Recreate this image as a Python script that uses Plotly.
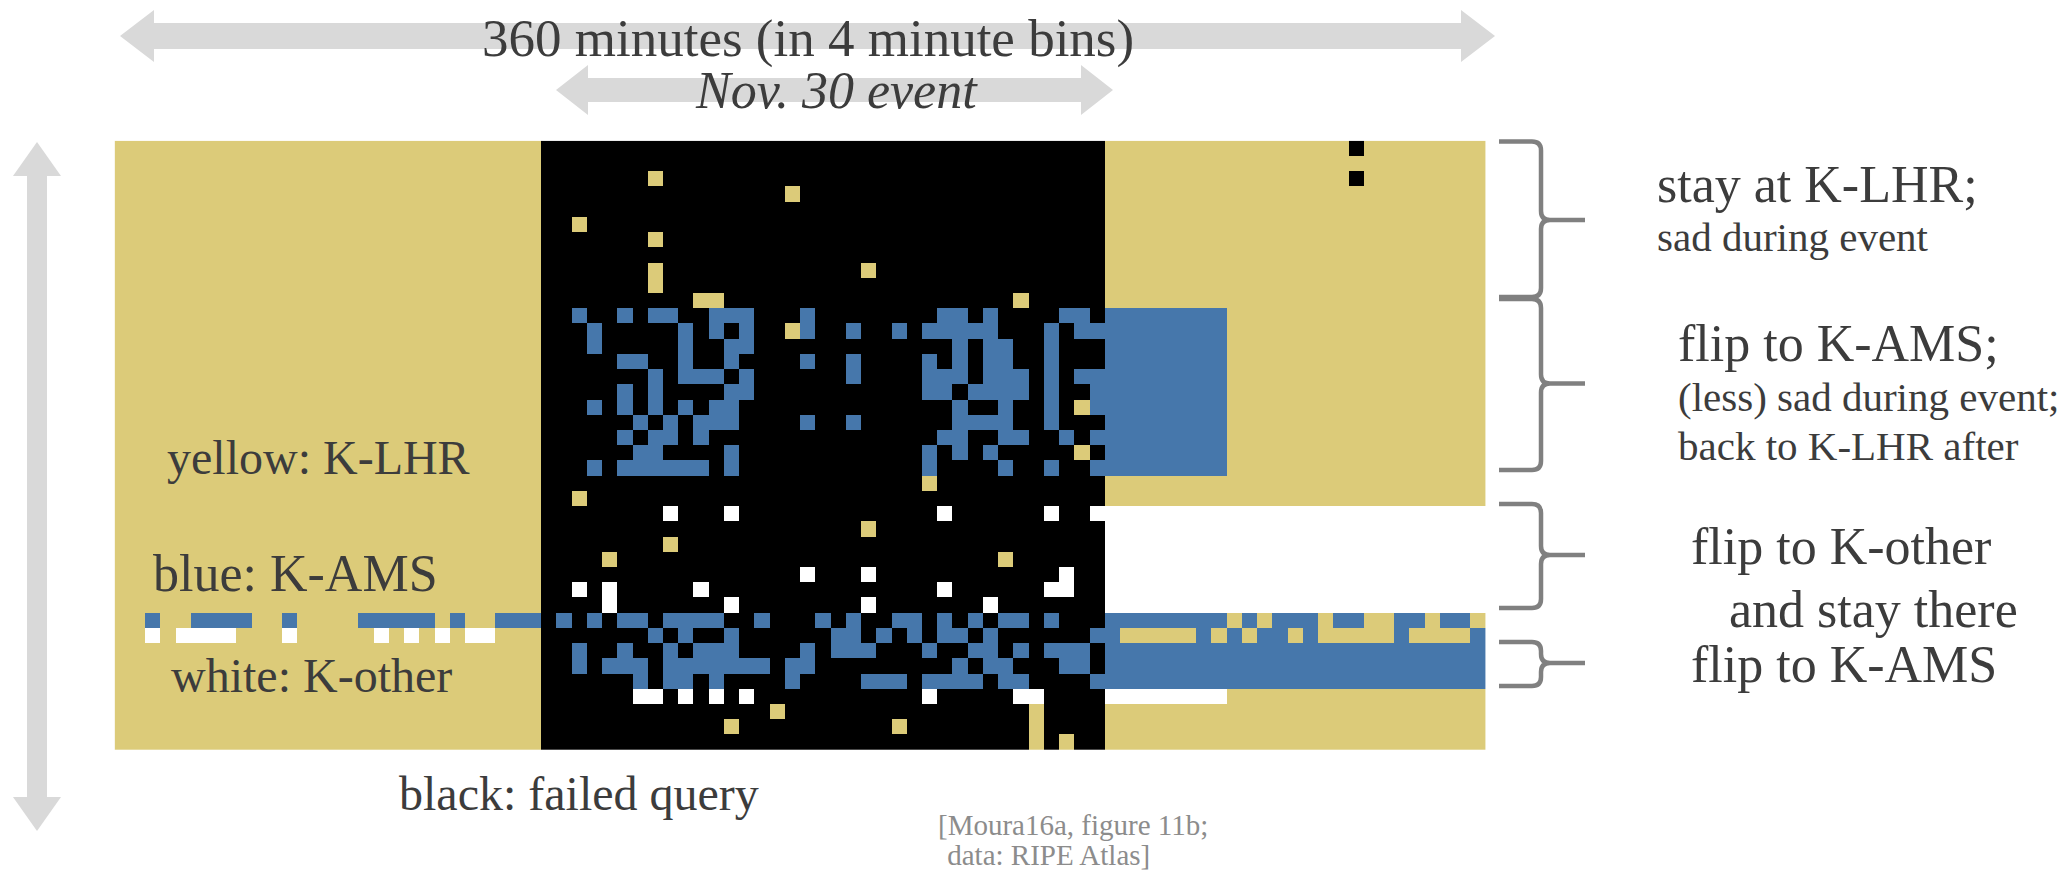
import numpy as np
import plotly.graph_objects as go

W, H = 2072, 875

# ---------------- data ----------------
categories = ["K-LHR", "K-AMS", "K-other", "failed query"]
cat_colors = ["#DCCB79", "#4677AB", "#FFFFFF", "#000000"]
code = {"Y": 0, "B": 1, "W": 2, "K": 3}

n_probes = 40
bin_minutes = list(range(0, 360, 4))          # 90 bins of 4 minutes
event_bins = (28, 65)                          # bins of the Nov. 30 event (failed by default)

# before the event (default K-LHR)
before_blue = {31: [2, 5, 6, 7, 8, 11, 16, 17, 18, 19, 20, 22, 25, 26, 27]}
before_white = {32: [2, 4, 5, 6, 7, 11, 17, 19, 21, 23, 24]}

# during the event (default failed query)
event_yellow = {
    2: [35], 3: [44], 5: [30], 6: [35], 8: [35, 49], 9: [35], 10: [38, 39, 59],
    12: [44], 17: [63], 20: [63], 22: [53], 23: [30], 25: [49], 26: [36],
    27: [32, 58], 37: [43, 60], 38: [40, 51, 60], 39: [60, 62],
}
event_blue = {
    11: [30, 33, 35, 36, 39, 40, 41, 45, 54, 55, 57, 62, 63],
    12: [31, 37, 39, 41, 45, 48, 51, 53, 54, 55, 56, 57, 61, 63, 64],
    13: [31, 37, 40, 41, 55, 57, 58, 61],
    14: [33, 34, 37, 40, 45, 48, 53, 55, 57, 58, 61],
    15: [35, 37, 38, 39, 41, 48, 53, 54, 55, 57, 58, 59, 61, 63, 64],
    16: [33, 35, 40, 41, 53, 54, 56, 57, 58, 59, 61, 64],
    17: [31, 33, 35, 37, 39, 40, 55, 58, 61, 64],
    18: [34, 36, 38, 39, 40, 45, 48, 55, 56, 57, 58, 61],
    19: [33, 35, 36, 38, 54, 55, 58, 59, 62, 64],
    20: [34, 35, 40, 53, 55, 57],
    21: [31, 33, 34, 35, 36, 37, 38, 40, 53, 58, 61, 64],
    31: [29, 31, 33, 34, 36, 37, 38, 39, 42, 46, 48, 51, 52, 54, 56, 58, 59, 61],
    32: [35, 37, 40, 47, 48, 50, 52, 54, 55, 57, 64],
    33: [30, 33, 36, 38, 39, 40, 45, 47, 48, 49, 53, 56, 57, 59, 61, 62, 63],
    34: [30, 32, 33, 34, 36, 37, 38, 39, 40, 41, 42, 44, 45, 55, 57, 58, 62, 63],
    35: [34, 36, 37, 39, 44, 49, 50, 51, 53, 54, 55, 56, 58, 59, 64],
}
event_white = {
    24: [36, 40, 54, 61, 64],
    28: [45, 49, 62],
    29: [30, 32, 38, 54, 61, 62],
    30: [32, 40, 49, 57],
    36: [34, 35, 37, 39, 41, 53, 59, 60],
}

# after the event: bins 65..89, one letter per bin (default all K-LHR)
after_rows = {
    0: "YYYYYYYYYYYYYYYYKYYYYYYYY",
    2: "YYYYYYYYYYYYYYYYKYYYYYYYY",
    11: "BBBBBBBBYYYYYYYYYYYYYYYYY", 12: "BBBBBBBBYYYYYYYYYYYYYYYYY",
    13: "BBBBBBBBYYYYYYYYYYYYYYYYY", 14: "BBBBBBBBYYYYYYYYYYYYYYYYY",
    15: "BBBBBBBBYYYYYYYYYYYYYYYYY", 16: "BBBBBBBBYYYYYYYYYYYYYYYYY",
    17: "BBBBBBBBYYYYYYYYYYYYYYYYY", 18: "BBBBBBBBYYYYYYYYYYYYYYYYY",
    19: "BBBBBBBBYYYYYYYYYYYYYYYYY", 20: "BBBBBBBBYYYYYYYYYYYYYYYYY",
    21: "BBBBBBBBYYYYYYYYYYYYYYYYY",
    24: "WWWWWWWWWWWWWWWWWWWWWWWWW", 25: "WWWWWWWWWWWWWWWWWWWWWWWWW",
    26: "WWWWWWWWWWWWWWWWWWWWWWWWW", 27: "WWWWWWWWWWWWWWWWWWWWWWWWW",
    28: "WWWWWWWWWWWWWWWWWWWWWWWWW", 29: "WWWWWWWWWWWWWWWWWWWWWWWWW",
    30: "WWWWWWWWWWWWWWWWWWWWWWWWW",
    31: "BBBBBBBBYBYBBBYBBYYBBYBBY",
    32: "BYYYYYBYBYBBYBYYYYYBYYYYB",
    33: "BBBBBBBBBBBBBBBBBBBBBBBBB", 34: "BBBBBBBBBBBBBBBBBBBBBBBBB",
    35: "BBBBBBBBBBBBBBBBBBBBBBBBB",
    36: "WWWWWWWWYYYYYYYYYYYYYYYYY",
}

# ---------------- build grid ----------------
n_bins = len(bin_minutes)
z = np.zeros((n_probes, n_bins), dtype=int)
z[:, event_bins[0]:event_bins[1]] = code["K"]
for table, val in [(before_blue, 1), (before_white, 2),
                   (event_yellow, 0), (event_blue, 1), (event_white, 2)]:
    for r, cols in table.items():
        for c in cols:
            z[r, c] = val
for r, s in after_rows.items():
    for i, ch in enumerate(s):
        z[r, event_bins[1] + i] = code[ch]

colorscale = [[0, cat_colors[0]], [1 / 6, cat_colors[0]],
              [1 / 6, cat_colors[1]], [1 / 2, cat_colors[1]],
              [1 / 2, cat_colors[2]], [5 / 6, cat_colors[2]],
              [5 / 6, cat_colors[3]], [1, cat_colors[3]]]

fig = go.Figure()
fig.add_trace(go.Heatmap(
    z=z, x=bin_minutes, y=list(range(n_probes)),
    zmin=0, zmax=3, colorscale=colorscale, showscale=False,
    zsmooth=False, hoverinfo="skip",
))


def PX(x):
    return x / W


def PY(y):
    return 1 - y / H


fig.update_xaxes(domain=[PX(114.6), PX(1485.7)], range=[-2, 358],
                 visible=False, fixedrange=True)
fig.update_yaxes(domain=[PY(750.0), PY(140.7)], range=[n_probes - 0.5, -0.5],
                 visible=False, fixedrange=True)


def path(pts, close=True):
    s = "M " + " L ".join(f"{PX(x):.5f},{PY(y):.5f}" for x, y in pts)
    return s + (" Z" if close else "")


ARROW = "#D9D9D9"
shapes = []


def harrow(x0, x1, yc, shaft, head, hl):
    pts = [(x0, yc), (x0 + hl, yc - head / 2), (x0 + hl, yc - shaft / 2),
           (x1 - hl, yc - shaft / 2), (x1 - hl, yc - head / 2), (x1, yc),
           (x1 - hl, yc + head / 2), (x1 - hl, yc + shaft / 2),
           (x0 + hl, yc + shaft / 2), (x0 + hl, yc + head / 2)]
    shapes.append(dict(type="path", path=path(pts), xref="paper", yref="paper",
                       fillcolor=ARROW, line=dict(width=0), layer="above"))


def varrow(xc, y0, y1, shaft, head, hl):
    pts = [(xc, y0), (xc + head / 2, y0 + hl), (xc + shaft / 2, y0 + hl),
           (xc + shaft / 2, y1 - hl), (xc + head / 2, y1 - hl), (xc, y1),
           (xc - head / 2, y1 - hl), (xc - shaft / 2, y1 - hl),
           (xc - shaft / 2, y0 + hl), (xc - head / 2, y0 + hl)]
    shapes.append(dict(type="path", path=path(pts), xref="paper", yref="paper",
                       fillcolor=ARROW, line=dict(width=0), layer="above"))


harrow(120, 1495, 36, 26, 52, 34)
harrow(556, 1113, 90, 24, 50, 32)
varrow(37, 142, 831, 20, 48, 34)


def brace(yt, ym, yb, x0=1499, xv=1541, xt=1585, r=9):
    def p(x, y):
        return f"{PX(x):.5f},{PY(y):.5f}"
    d = (f"M {p(x0, yt)} L {p(xv - r, yt)} Q {p(xv, yt)} {p(xv, yt + r)} "
         f"L {p(xv, ym - r)} Q {p(xv, ym)} {p(xv + r, ym)} L {p(xt, ym)} "
         f"M {p(xv + r, ym)} Q {p(xv, ym)} {p(xv, ym + r)} "
         f"L {p(xv, yb - r)} Q {p(xv, yb)} {p(xv - r, yb)} L {p(x0, yb)}")
    shapes.append(dict(type="path", path=d, xref="paper", yref="paper",
                       line=dict(color="#808080", width=4.5), layer="above"))


brace(141.5, 220, 297)
brace(299, 383.5, 470)
brace(504, 555, 608)
brace(642, 663, 686)

fig.update_layout(shapes=shapes)

TXT = "#3C3C3C"
SERIF = "Liberation Serif"


def label(text, x, baseline, size, anchor="left", color=TXT):
    fig.add_annotation(
        text=text, x=PX(x), y=PY(baseline - 0.34 * size), xref="paper", yref="paper",
        xanchor=anchor, yanchor="middle", showarrow=False, borderpad=0,
        font=dict(family=SERIF, size=size, color=color),
    )


label("360 minutes (in 4 minute bins)", 808, 57, 53, anchor="center")
label("<i>Nov. 30 event</i>", 836, 108, 52, anchor="center")

label("yellow: K-LHR", 166, 474, 48)
label("blue: K-AMS", 152, 591, 52)
label("white: K-other", 170, 692, 48)
label("black: failed query", 398, 810, 48)
label("[Moura16a, figure 11b;", 937, 835, 29, color="#8C8C8C")
label(" data: RIPE Atlas]", 939, 865, 29, color="#8C8C8C")

label("stay at K-LHR;", 1656, 202, 52)
label("sad during event", 1656, 251, 41)
label("flip to K-AMS;", 1677, 361, 52)
label("(less) sad during event;", 1677, 411, 41)
label("back to K-LHR after", 1677, 460, 41)
label("flip to K-other", 1690, 564, 52)
label("and stay there", 1728, 627, 52)
label("flip to K-AMS", 1690, 682, 52)

fig.update_layout(
    width=W, height=H, autosize=False,
    margin=dict(l=0, r=0, t=0, b=0, pad=0),
    paper_bgcolor="white", plot_bgcolor="white",
    showlegend=False,
)

fig.write_html("out.html", config={"displayModeBar": False},
               post_script="document.body.style.margin='0px';")
